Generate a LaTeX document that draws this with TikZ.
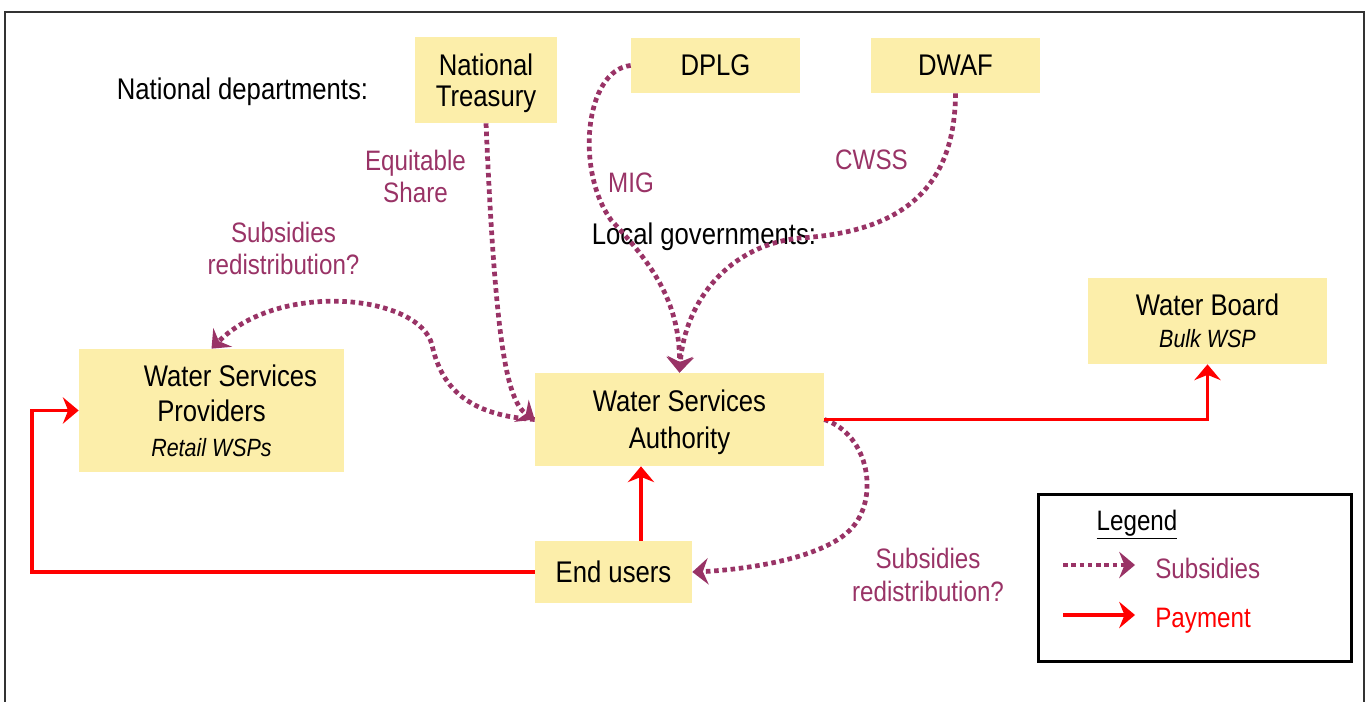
\documentclass[tikz,border=0pt]{standalone}
\usepackage{fontspec}
\setmainfont{Liberation Sans}[FakeStretch=0.86]
\usepackage{xcolor}
\usetikzlibrary{positioning, calc, arrows.meta}

\definecolor{boxyellow}{RGB}{252,238,170}
\definecolor{subsidy}{RGB}{153,51,102}
\definecolor{payment}{RGB}{255,0,0}
\newcommand{\boxnote}[1]{{\fontsize{14.2}{17}\selectfont\itshape #1}}

\tikzset{
	box/.style={fill=boxyellow, inner sep=0pt, align=center, font=\fontsize{17}{18}\selectfont},
	head/.style={inner sep=0pt, font=\fontsize{17}{18}\selectfont},
	lbl/.style={text=subsidy, inner sep=0pt, align=center, font=\fontsize{16}{18.6}\selectfont},
	legtext/.style={inner sep=0pt, font=\fontsize{16}{18}\selectfont},
	sub/.style={subsidy, line width=2.7pt, dash pattern=on 2.6pt off 2.1pt, -{Stealth[length=9pt, width=15pt, inset=3pt]}},
	pay/.style={payment, line width=2.2pt, -{Stealth[length=9pt, width=15pt, inset=3pt]}},
}

\begin{document}
\begin{tikzpicture}[x=0.02cm, y=-0.02cm]
	\useasboundingbox (0,0) rectangle (1369,702);
	\draw[line width=1.1pt, black!80] (5,703) -- (5,12) -- (1364,12) -- (1364,703);

	% boxes
	\node[box, minimum width=2.84cm, minimum height=1.72cm, text depth=0pt] (nt) at (486,80) {National\\Treasury};
	\node[box, minimum width=3.38cm, minimum height=1.1cm] (dplg) at (715.5,65.5) {DPLG};
	\node[box, minimum width=3.38cm, minimum height=1.1cm] (dwaf) at (955.5,65.5) {DWAF};
	\node[box, minimum width=4.78cm, minimum height=1.72cm] (wb) at (1207.5,321) {Water Board\\\boxnote{Bulk WSP}};
	\node[box, minimum width=5.78cm, minimum height=1.86cm, text depth=0pt, font=\fontsize{17}{21}\selectfont] (wsa) at (679.5,419.5) {Water Services\\Authority};
	\node[box, minimum width=5.3cm, minimum height=2.46cm, font=\fontsize{17}{20}\selectfont] (wsp) at (211.5,410.5) {\hspace*{0.76cm}Water Services\\Providers\\\boxnote{Retail WSPs}};
	\node[box, minimum width=3.14cm, minimum height=1.24cm] (eu) at (613.5,572) {End users};

	\node[head, anchor=base] (natdep) at (242.5,100) {National departments:};
	\node[head, anchor=base] (locgov) at (704,245) {Local governments:};

	\node[lbl] (eqshare) at (415.5,176.3) {Equitable\\Share};
	\node[lbl, anchor=base] (mig) at (631,193) {MIG};
	\node[lbl, anchor=base] (cwss) at (871.5,170) {CWSS};
	\node[lbl] (redistl) at (283.5,248.3) {Subsidies\\redistribution?};
	\node[lbl] (redistr) at (928,574.8) {Subsidies\\redistribution?};

	% subsidies
	\draw[sub] (nt.south) .. controls (495,330) and (505,400) .. (wsa.west);
	\draw[sub] (wsa.west) .. controls (460,415) and (440,380) .. (432,345) .. controls (420,295) and (280,280) .. (wsp.north);
	\draw[sub] (dplg.west) .. controls (585,70) and (575,170) .. (611,220) .. controls (650,262) and (680,300) .. (wsa.north);
	\draw[sub] (dwaf.south) .. controls (955,190) and (900,232) .. (800,238) .. controls (730,245) and (685,300) .. (wsa.north);
	\draw[sub] (wsa.east) .. controls (870,435) and (880,500) .. (850,530) .. controls (820,560) and (740,570) .. (eu.east);

	% payments
	\draw[pay] ([xshift=0.55cm]eu.north) -- ([xshift=0.55cm]eu.north |- wsa.south);
	\draw[pay] (wsa.east) -| (wb.south);
	\draw[pay] (eu.west) -| ([xshift=-0.94cm]wsp.west) -- (wsp.west);

	% legend
	\node[draw, line width=1.7pt, minimum width=6.26cm, minimum height=3.34cm] (legend) at (1195,578) {};
	\node[legtext, anchor=base] (legtitle) at (1137,530) {\underline{Legend}};
	\coordinate (subfrom) at (1063,565);
	\coordinate (subto) at (1135,565);
	\draw[sub] (subfrom) -- (subto);
	\node[legtext, text=subsidy, anchor=base west] (subkey) at (1155,578) {Subsidies};
	\coordinate (payfrom) at (1063,615);
	\coordinate (payto) at (1135,615);
	\draw[pay] (payfrom) -- (payto);
	\node[legtext, text=payment, anchor=base west] (paykey) at (1155,627) {Payment};
\end{tikzpicture}
\end{document}
